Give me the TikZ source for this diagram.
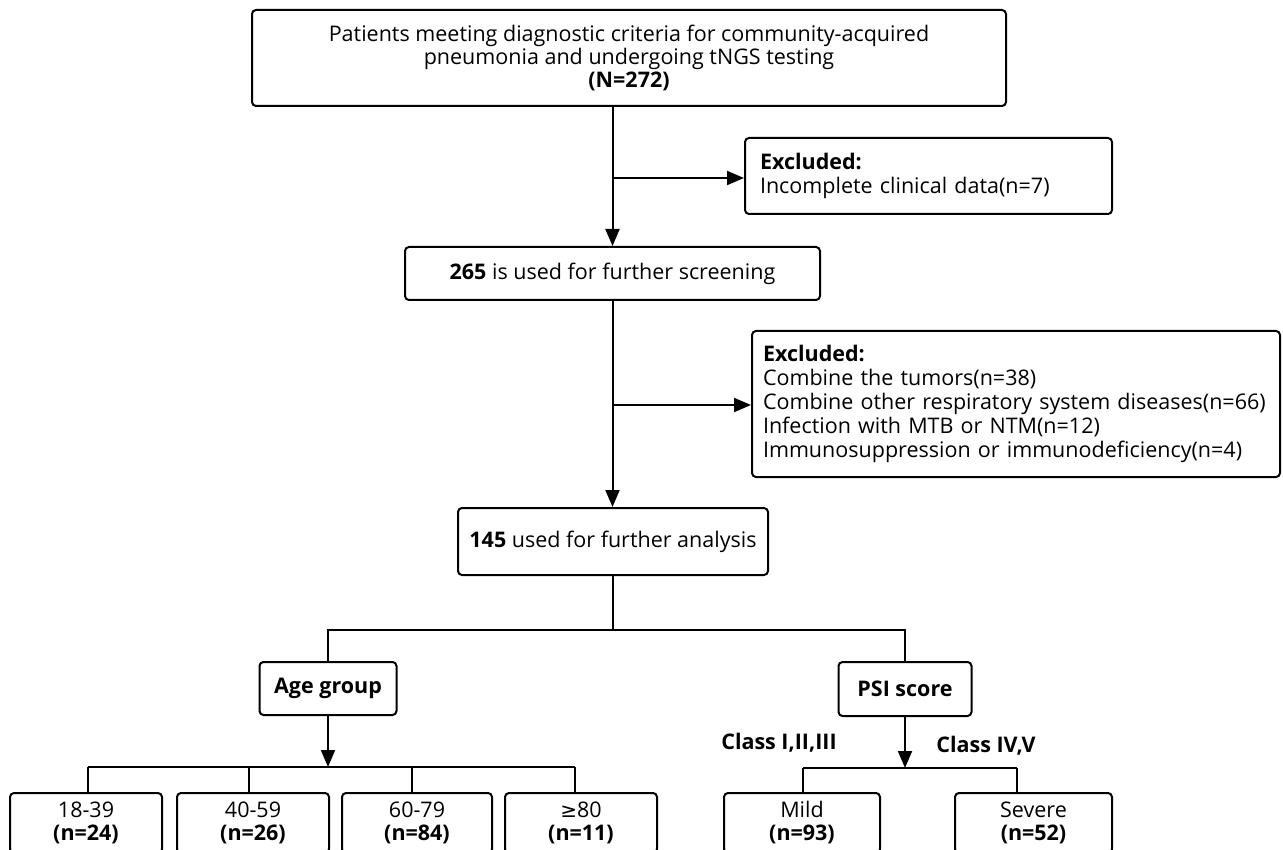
\documentclass[tikz,border=0pt]{standalone}
\usepackage{fontspec}
\setmainfont{Open Sans}
\newfontfamily\symfont{DejaVu Sans}
\usetikzlibrary{arrows.meta}
\begin{document}
\begin{tikzpicture}[x=1pt,y=-1pt,
  every node/.style={font=\fontsize{21.5}{23}\selectfont},
  box/.style={draw,line width=2pt,rounded corners=4pt,align=center,inner sep=0pt},
  lbox/.style={draw,line width=2pt,rounded corners=4pt,align=left,inner sep=0pt,font=\fontsize{21.5}{24}\selectfont},
  conn/.style={line width=2pt},
  arr/.style={line width=2pt,-{Triangle[length=17pt,width=14pt]}},
  cls/.style={font=\fontsize{21.5}{23}\selectfont\bfseries}
]
\useasboundingbox (0,0) rectangle (1283,850);
\clip (0,0) rectangle (1283,850);

% main column
\node[box,minimum width=754pt,minimum height=96pt] (top) at (629,58)
  {Patients meeting diagnostic criteria for community-acquired\\pneumonia and undergoing tNGS testing\\\textbf{(N=272)}};
\node[lbox,minimum width=367pt,minimum height=76pt,text width=337pt] (ex1) at (928.5,176)
  {\textbf{Excluded:}\\Incomplete clinical data(n=7)};
\node[box,minimum width=415pt,minimum height=53pt] (s265) at (612.5,273.5)
  {\textbf{265} is used for further screening};
\node[lbox,minimum width=528pt,minimum height=146pt,text width=506pt] (ex2) at (1016,404)
  {\textbf{Excluded:}\\Combine the tumors(n=38)\\Combine other respiratory system diseases(n=66)\\Infection with MTB or NTM(n=12)\\Immunosuppression or immunodeficiency(n=4)};
\node[box,minimum width=310pt,minimum height=67pt] (s145) at (613,541.5)
  {\textbf{145} used for further analysis};

% groups
\node[box,minimum width=137pt,minimum height=53pt,font=\fontsize{21.5}{23}\selectfont\bfseries] (age) at (328,688.5) {Age group};
\node[box,minimum width=133pt,minimum height=54pt,font=\fontsize{21.5}{23}\selectfont\bfseries] (psi) at (905,689) {PSI score};

% bottom boxes
\node[box,minimum width=152pt,minimum height=60pt] (a1) at (86,823) {18-39\\\textbf{(n=24)}};
\node[box,minimum width=152pt,minimum height=60pt] (a2) at (253,823) {40-59\\\textbf{(n=26)}};
\node[box,minimum width=150pt,minimum height=60pt] (a3) at (417,823) {60-79\\\textbf{(n=84)}};
\node[box,minimum width=152pt,minimum height=60pt] (a4) at (581,823) {{\symfont\fontsize{20}{23}\selectfont ≥}80\\\textbf{(n=11)}};
\node[box,minimum width=156pt,minimum height=60pt] (m1) at (802,823) {Mild\\\textbf{(n=93)}};
\node[box,minimum width=157pt,minimum height=60pt] (m2) at (1033.5,823) {Severe\\\textbf{(n=52)}};

\node[cls] (c1) at (779,743) {Class I,II,III};
\node[cls] (c2) at (986,746) {Class IV,V};

% connectors
\coordinate (b1) at (613,178);
\coordinate (b2) at (613,405);
\draw[arr] (top.south -| s265.north) -- (s265.north);
\draw[arr] (b1) -- (b1 -| ex1.west);
\draw[arr] (s265.south) -- (s265.south |- s145.north);
\draw[arr] (b2) -- (b2 -| ex2.west);

\coordinate (hb) at (613,630);
\draw[conn] (s145.south) -- (hb);
\draw[conn] (age.north) |- (hb) -| (psi.north);

% age split
\coordinate (ja) at (328,767);
\coordinate (j1) at (88,767);
\coordinate (j2) at (249,767);
\coordinate (j3) at (412,767);
\coordinate (j4) at (575,767);
\draw[arr] (age.south) -- (ja);
\draw[conn] (j1) -- (j4);
\draw[conn] (j1) -- (j1 |- a1.north);
\draw[conn] (j2) -- (j2 |- a2.north);
\draw[conn] (j3) -- (j3 |- a3.north);
\draw[conn] (j4) -- (j4 |- a4.north);

% psi split
\coordinate (jp) at (905,768);
\coordinate (k1) at (803,768);
\coordinate (k2) at (1017,768);
\draw[arr] (psi.south) -- (jp);
\draw[conn] (k1) -- (k2);
\draw[conn] (k1) -- (k1 |- m1.north);
\draw[conn] (k2) -- (k2 |- m2.north);
\end{tikzpicture}
\end{document}
